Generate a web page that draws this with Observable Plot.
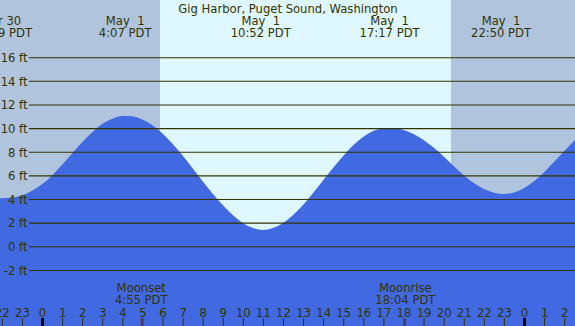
<!DOCTYPE html>
<html><head><meta charset="utf-8">
<script src="https://cdn.jsdelivr.net/npm/d3@7"></script>
<script src="https://cdn.jsdelivr.net/npm/@observablehq/plot@0.6"></script>
<style>body{margin:0;background:#fff}</style>
</head><body><div id="chart"></div>
<script>
const title = "Gig Harbor, Puget Sound, Washington";
// hours since May 1 00:00 PDT, tide heights (ft)
const tideHours = [-2.1,-2.0,-1.5,-1.0,-0.5,0.0,0.5,1.0,1.5,2.0,2.5,3.0,3.5,4.0,4.5,5.0,5.5,6.0,6.5,7.0,7.5,8.0,8.5,9.0,9.5,10.0,10.5,11.0,11.5,12.0,12.5,13.0,13.5,14.0,14.5,15.0,15.5,16.0,16.5,17.0,17.5,18.0,18.5,19.0,19.5,20.0,20.5,21.0,21.5,22.0,22.5,23.0,23.5,24.0,24.5,25.0,25.5,26.0,26.6];
const tideFeet  = [4.07,4.07,4.12,4.3,4.7,5.25,6.0,6.9,7.85,8.8,9.65,10.35,10.8,11.02,11.0,10.72,10.25,9.55,8.68,7.68,6.6,5.5,4.45,3.5,2.65,1.98,1.55,1.38,1.55,1.98,2.65,3.5,4.5,5.58,6.65,7.65,8.55,9.27,9.75,9.98,10.0,9.84,9.5,9.0,8.35,7.6,6.8,6.02,5.35,4.85,4.54,4.43,4.56,4.92,5.5,6.27,7.15,8.05,9.1];
const extremeHours = [-2.017, 4.117, 10.867, 17.283, 22.833];
const extremeLabels = ["Apr 30\n21:59 PDT", "May  1\n4:07 PDT", "May  1\n10:52 PDT", "May  1\n17:17 PDT", "May  1\n22:50 PDT"];
const moonHours = [4.917, 18.067];
const moonLabels = ["Moonset\n4:55 PDT", "Moonrise\n18:04 PDT"];
const sunrise = 5.876, sunset = 20.366;
const gridFeet = [-2, 0, 2, 4, 6, 8, 10, 12, 14, 16];
const gridLabels = ["-2 ft", "0 ft", "2 ft", "4 ft", "6 ft", "8 ft", "10 ft", "12 ft", "14 ft", "16 ft"];
const hourTicks = [-2,-1,1,2,3,4,5,6,7,8,9,10,11,12,13,14,15,16,17,18,19,20,21,22,23,25,26];
const hourLabelPos = [-2,-1,0,1,2,3,4,5,6,7,8,9,10,11,12,13,14,15,16,17,18,19,20,21,22,23,24,25,26];
const hourLabels = ["22","23","0","1","2","3","4","5","6","7","8","9","10","11","12","13","14","15","16","17","18","19","20","21","22","23","0","1","2"];
const midnightTicks = [0, 24];

const xMin = -2.0913, xMax = 26.540;
const yMin = -6.743, yMax = 20.838;
const gridStart = -0.647;

const night = "#b0c4de", day = "#dff7ff", water = "#4169e1", ink = "#333300";
const font = "DejaVu Sans", fs = 11.6, lh = 12 / 11.6;

const tide = tideHours.map((h, i) => ({h, ft: tideFeet[i]}));
const ext = extremeHours.map((h, i) => ({h, t: extremeLabels[i]}));
const moon = moonHours.map((h, i) => ({h, t: moonLabels[i]}));
const grid = gridFeet.map((f, i) => ({f, t: gridLabels[i]}));
const hl = hourLabelPos.map((h, i) => ({h, t: hourLabels[i]}));
const nights = [{a: xMin, b: sunrise}, {a: sunset, b: xMax}];
const days = [{a: sunrise, b: sunset}];

const chart = Plot.plot({
  width: 575, height: 326,
  margin: 0,
  x: {domain: [xMin, xMax], axis: null},
  y: {domain: [yMin, yMax], axis: null},
  style: {fontFamily: font, fontSize: fs + "px", background: night, whiteSpace: "pre"},
  marks: [
    Plot.rect(nights, {x1: "a", x2: "b", y1: yMin, y2: yMax, fill: night}),
    Plot.rect(days, {x1: "a", x2: "b", y1: yMin, y2: yMax, fill: day}),
    Plot.areaY(tide, {x: "h", y1: yMin, y2: "ft", fill: water, curve: "monotone-x"}),
    Plot.ruleY(grid, {y: "f", x1: gridStart, x2: xMax, stroke: ink, strokeWidth: 1.1}),
    Plot.text(grid, {y: "f", x: gridStart, text: "t", dx: -2, dy: 0.6, textAnchor: "end", lineAnchor: "middle", fill: ink, fontFamily: font, fontSize: fs}),
    Plot.text([title], {frameAnchor: "top", text: d => d, dy: 12, lineAnchor: "bottom", fill: ink, fontFamily: font, fontSize: fs}),
    Plot.text(ext, {x: "h", text: "t", frameAnchor: "top", dy: 36, lineAnchor: "bottom", lineHeight: lh, fill: ink, fontFamily: font, fontSize: fs}),
    Plot.text(moon, {x: "h", text: "t", frameAnchor: "bottom", dy: -23, lineAnchor: "bottom", lineHeight: lh, fill: ink, fontFamily: font, fontSize: fs}),
    Plot.text(hl, {x: "h", text: "t", frameAnchor: "bottom", dy: -10, lineAnchor: "bottom", fill: ink, fontFamily: font, fontSize: fs}),
    Plot.ruleX(hourTicks, {x: d => d, insetTop: 318, stroke: ink, strokeWidth: 1}),
    Plot.ruleX(midnightTicks, {x: d => d, insetTop: 318, stroke: "#000", strokeWidth: 3}),
    Plot.ruleX(moonHours, {x: d => d, insetTop: 318, stroke: "#cc0000", strokeWidth: 1})
  ]
});
document.getElementById("chart").append(chart);
</script>
</body></html>
